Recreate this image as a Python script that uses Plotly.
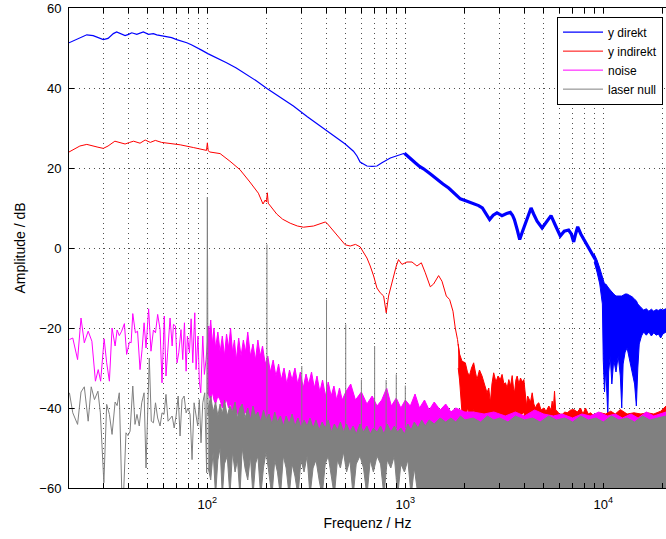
import plotly.graph_objects as go

# ---------------- data ----------------
# y direkt (blue) - smooth part
direkt_f = [20, 22.7, 24.6, 26.5, 28, 29.8, 31.5, 33.5, 34.8, 36.5, 38.4, 40, 41.5, 44, 47.5, 50.4,
            53.4, 55.5, 57.7, 62.3, 66, 70, 74, 78.7, 83, 88.4, 94, 100.5, 112, 125, 140, 158, 178,
            200, 235, 272, 320, 386, 440, 497, 547, 570, 591, 615, 640, 680, 719, 762, 800, 840, 900,
            962, 990]
direkt_db = [51.3, 52.4, 53.3, 53.1, 52.6, 52.1, 52.4, 53.6, 54.0, 53.6, 53.1, 53.4, 53.8, 53.4, 54.0,
             53.4, 53.6, 53.3, 53.1, 52.8, 52.6, 52.1, 51.8, 51.3, 50.8, 50.0, 49.4, 48.6, 47.5, 46.3,
             45.0, 43.4, 41.7, 39.9, 37.6, 35.5, 32.8, 29.9, 28.0, 26.0, 24.2, 23.0, 21.5, 20.9, 20.5,
             20.4, 20.5, 21.3, 22.0, 22.5, 23.0, 23.6, 23.7]
# y direkt - thicker, noisier part
direkt2_f = [990, 1019, 1070, 1122, 1180, 1236, 1340, 1445, 1550, 1656, 1780, 1897, 2051, 2200, 2346,
             2450, 2535, 2600, 2667, 2780, 2905, 3000, 3078, 3250, 3394, 3480, 3557, 3680, 3784, 3900,
             4045, 4200, 4318, 4450, 4632, 4910, 5150, 5448, 5750, 6067, 6350, 6683, 6900, 7090, 7250,
             7430, 7700, 8000, 8280, 8600, 8950, 9100]
direkt2_db = [23.7, 23.1, 22.2, 21.3, 20.4, 19.8, 18.5, 17.1, 16.0, 15.0, 13.6, 12.3, 11.7, 11.2, 10.6,
              10.0, 8.8, 7.8, 7.1, 8.2, 8.8, 8.4, 8.1, 8.6, 8.9, 8.2, 7.1, 4.5, 2.1, 4.0, 6.3, 8.8, 10.0,
              8.5, 6.7, 5.0, 6.5, 8.1, 5.5, 3.0, 4.2, 4.5, 3.5, 1.5, 3.5, 5.3, 3.5, 2.0, 0.8, -0.5, -2.1,
              -2.8]
# y direkt - high-frequency band (upper / lower envelope)
direkt_band_f = [9000, 9300, 9600, 9900, 10000, 10150, 10300, 10450, 10550, 10650, 10850, 11050, 11300,
                 11600, 11900, 12200, 12400, 12600, 12900, 13200, 13600, 14000, 14400, 14700, 14950,
                 15200, 15600, 16000, 16500, 17000, 17500, 18000, 18500, 19000, 19500, 20000, 20750]
direkt_band_hi = [-1.5, -3, -5, -7.5, -8.5, -9, -9, -9.5, -10, -10, -10.5, -11, -11.5, -12, -12, -12,
                  -12, -11.8, -11.5, -11.5, -11.8, -12.2, -12.8, -13.2, -14, -14.5, -15, -15.5, -15.2,
                  -15.8, -15.3, -15.8, -15.4, -15.6, -15.3, -15.5, -15.2]
direkt_band_lo = [-3.5, -6, -9, -14, -28, -36, -30, -35, -42, -31, -27, -34, -28, -31, -27, -32, -40,
                  -29, -26, -25, -28, -31, -34, -39.5, -30, -24, -22, -21, -21.8, -21, -22, -21.2,
                  -21.8, -21.5, -22.5, -21.5, -21]

# y indirekt (red) - line part
indirekt_f = [20, 21.5, 22.7, 24.6, 26.5, 28, 29.8, 31.5, 34.1, 36, 38.4, 40.5, 42.4, 45.7, 48.5, 51.5,
              54.6, 58.7, 65, 72.9, 85.3, 95, 99, 100, 101, 103, 116, 130, 146, 164, 181, 191, 196, 199,
              201, 203, 206, 224, 240, 262, 285, 306, 344, 380, 394, 402, 425, 451, 497, 527, 560, 591,
              615, 640, 665, 692, 719, 747, 777, 801, 823, 850, 872, 900, 924, 962, 1019, 1081, 1145,
              1205, 1262, 1337, 1390, 1473, 1532, 1611, 1675, 1741, 1788, 1836, 1880]
indirekt_db = [24.0, 24.9, 25.5, 25.9, 25.6, 25.2, 24.9, 25.5, 26.7, 26.4, 26.0, 26.4, 26.7, 26.2, 27.0,
               26.4, 26.9, 26.4, 26.1, 25.8, 25.1, 24.6, 24.4, 26.3, 24.3, 24.0, 23.6, 21.7, 19.6, 16.5,
               13.7, 11.0, 12.0, 11.5, 13.8, 11.2, 10.8, 8.5, 7.2, 6.2, 5.5, 5.2, 5.5, 6.2, 6.5, 6.2,
               4.8, 3.3, 0.8, 0.5, 0.9, 0.3, -1.2, -2.5, -4.5, -7.0, -10.0, -11.2, -12.0, -16.2, -12.0,
               -9.0, -7.0, -4.5, -2.9, -4.1, -3.5, -3.5, -4.5, -3.7, -6.2, -9.7, -9.0, -6.9, -8.3,
               -12.0, -12.9, -15.8, -20.0, -22.9, -27.0]
# y indirekt - noisy band
indirekt_band_f = [1850, 1880, 1934, 2010, 2060, 2106, 2160, 2215, 2260, 2302, 2370, 2441, 2510, 2587,
                   2640, 2689, 2740, 2796, 2870, 2941, 3020, 3082, 3150, 3208, 3270, 3334, 3400, 3467,
                   3520, 3562, 3620, 3674, 3750, 3819, 3900, 3971, 4030, 4097, 4150, 4209, 4290, 4375,
                   4460, 4548, 4640, 4727, 4850, 5010, 5150, 5310, 5450, 5521, 5600, 5673, 5750, 5852,
                   6000, 6202, 6400, 6574, 6850, 7104, 7400, 7677, 7900, 8137, 8400, 8625, 9000, 9687,
                   10300, 10900, 11500, 12200, 13200, 14300, 15500, 16700, 18000, 19500, 20750]
indirekt_band_hi = [-24, -26.5, -28.3, -28.7, -31, -32, -30, -28.7, -31, -32.9, -30.5, -32, -34, -36.2,
                    -35, -38.7, -34, -31.2, -33.5, -32, -32.9, -31.6, -34, -33.7, -35, -32.9, -34.5,
                    -31.9, -35, -36.2, -33, -32, -34, -32.5, -33.5, -32.9, -36, -39.5, -37, -37.5,
                    -38.5, -36.2, -39, -40, -39, -38.7, -40.5, -40, -40.8, -39.5, -40.5, -38.3, -40,
                    -35.8, -40.5, -40.8, -41.5, -41.6, -41, -41.2, -40.5, -40.4, -41, -40, -41.5, -40,
                    -41.5, -41.2, -42, -41.2, -41.5, -40.8, -41.5, -40.4, -41.5, -41.2, -41.5, -41.2,
                    -41.5, -40.8, -39.5]
indirekt_band_lo = [-30, -33, -41.2, -44, -40, -41.2, -43, -40.4, -42, -41, -43, -44.1, -42, -43.5, -44,
                    -44.5, -43, -42.5, -43, -42, -42, -41.5, -43, -43, -42, -42, -43, -41.2, -42, -43,
                    -42, -41.5, -42, -42, -41.5, -41, -43, -43.5, -43, -43, -43.5, -43, -44, -44, -44,
                    -44, -44.5, -44.5, -44.5, -44, -44.5, -44, -44.5, -44, -44.5, -44.5, -45, -45, -45,
                    -45, -45, -45, -45, -45, -45, -45, -45, -45, -45, -45, -45, -45, -45, -45, -45, -45,
                    -45, -45, -45, -45, -45]

# noise (magenta) - low-frequency line
noise_f = [20.1, 20.9, 22.1, 23.0, 23.9, 25.0, 26.1, 27.2, 28.1, 28.9, 30.1, 31.0, 32.0, 33.0, 34.2,
           35.0, 35.9, 36.9, 38.1, 39.1, 40.4, 41.2, 42.0, 43.3, 44.4, 45.7, 46.8, 47.9, 49.0, 50.5,
           51.9, 53.4, 54.7, 56.1, 57.7, 59.0, 60.6, 61.8, 63.0, 64.8, 66.4, 67.4, 69.0, 70.3, 71.7,
           73.6, 75.1, 76.6, 78.1, 79.3, 81.2, 82.8, 84.4, 86.4, 87.7, 89.7, 91.1, 92.6, 94.8, 96.6,
           98.5, 101.6, 103.2]
noise_db = [-22.9, -22.5, -27.9, -17.5, -23.7, -20.8, -23.3, -33.3, -30.4, -33.3, -22.7, -28.7, -33.3,
            -20.0, -24.5, -20.5, -21.9, -20.8, -18.9, -26.6, -23.5, -23.7, -16.4, -21.2, -20.8, -30.4,
            -25.4, -18.7, -25.0, -15.2, -25.8, -20.5, -21.2, -16.6, -20.4, -33.7, -17.0, -32.0, -26.2,
            -17.5, -24.5, -19.1, -19.5, -28.7, -26.2, -20.4, -27.9, -18.7, -30.8, -22.0, -26.2, -17.7,
            -28.7, -16.2, -30.4, -22.0, -33.3, -36.2, -22.0, -31.6, -27.9, -19.5, -23.7]
# noise - dense band (upper / lower envelope)
noise_band_f = [100, 102, 104, 106, 108, 110, 113, 116, 119, 122,
                125, 128, 131, 134, 137, 140, 144, 148, 152, 156,
                160, 165, 170, 175, 180, 185, 190, 196, 202, 208,
                215, 222, 229, 236, 244, 252, 260, 268, 277, 286,
                295, 305, 315, 325, 336, 347, 358, 370, 382, 395,
                408, 422, 436, 450, 465, 480, 500, 530, 560, 600,
                640, 680, 720, 760, 805, 850, 900, 950, 1000, 1060,
                1120, 1180, 1250, 1320, 1400, 1500, 1600, 1700, 1800, 2000,
                2200, 2500, 2800, 3200, 3600, 4000, 4500, 5000, 5600, 6200,
                7000, 7800, 8600, 9500, 10500, 11500, 12500, 13800, 15000, 16500,
                18000, 19500, 20750]
noise_band_hi = [-19.5, -23, -18, -24, -20, -25, -21, -26, -22, -27,
                 -21.5, -25, -20, -26, -23, -28, -22.5, -27, -23, -26,
                 -21, -27, -24, -28, -23, -27, -24.5, -29, -27, -31,
                 -28, -32, -29, -33, -30, -34, -30.5, -33, -30, -34,
                 -31, -35, -31.5, -34, -31, -35, -32, -36, -33, -37,
                 -33.5, -37, -34.5, -38, -35, -38, -36, -34, -38, -36,
                 -39, -37, -39.5, -38, -35, -39.5, -37.5, -40, -38, -39.5,
                 -36.5, -40, -38, -40.5, -38.5, -40.5, -39, -41, -40, -41,
                 -41, -41.5, -41, -42, -41, -42, -40.5, -41.5, -42, -41.5,
                 -42.5, -41.5, -42, -41, -42, -41.5, -42.5, -41.5, -42.5, -41,
                 -42, -41.5, -41]
noise_band_lo = [-36, -37, -38, -36, -38, -39, -37, -38, -40, -39,
                 -38, -40, -39, -41, -40, -41, -42, -41, -42, -41,
                 -42, -43, -42, -43, -44, -43, -44, -44, -45, -45,
                 -45, -46, -45, -46, -46, -45, -46, -46, -46, -47,
                 -46, -47, -47, -46, -47, -47, -47, -47, -47, -47,
                 -47, -47, -47, -47, -47, -47, -47, -47, -48, -48,
                 -48, -48, -48, -48, -48, -48, -48, -48, -48, -48,
                 -48, -48, -48, -48, -48, -48, -48, -48, -48, -48,
                 -48, -48, -48, -48, -48, -48, -48, -48, -48, -48,
                 -48, -48, -48, -48, -48, -48, -48, -48, -48, -48,
                 -48, -48, -48]

# laser null (gray) - low-frequency line incl. 100 Hz hum line
null_f = [20.1, 20.9, 22.1, 23.0, 23.9, 25.0, 25.9, 26.9, 28.0, 28.8, 30.0, 31.0, 32.0, 33.0, 34.2,
          35.0, 35.9, 37.0, 37.7, 38.8, 39.7, 40.7, 42.0, 43.1, 44.1, 45.3, 46.6, 47.9, 49.0, 50.1,
          50.9, 52.1, 53.4, 54.7, 56.1, 57.7, 59.0, 60.4, 61.8, 63.3, 64.8, 66.4, 68.0, 69.5, 71.2,
          72.8, 74.5, 76.3, 78.1, 80.0, 81.8, 83.7, 85.7, 87.7, 89.4, 91.1, 92.9, 94.8, 97.0, 99.2,
          100.0, 100.8, 102.0]
null_db = [-36.2, -41.2, -44.1, -36.0, -34.7, -43.3, -34.7, -37.9, -35.8, -41.2, -58.7, -39.1, -41.6,
           -46.6, -38.5, -39.4, -36.2, -62.0, -62.0, -46.2, -46.9, -45.8, -34.5, -44.1, -41.6, -44.5,
           -38.7, -36.2, -55.0, -34.5, -27.5, -43.3, -43.7, -38.7, -42.5, -44.5, -41.2, -41.6, -36.6,
           -43.3, -42.5, -42.0, -45.0, -42.0, -37.0, -47.0, -37.9, -37.0, -41.2, -40.0, -41.6, -52.9,
           -38.7, -42.0, -44.5, -37.9, -48.7, -38.7, -36.2, -56.2, 12.7, -42.0, -40.0]
# laser null - dense band (upper / lower envelope, lower edge clipped by the axis)
null_band_f = [101, 104, 107, 110, 113, 116, 119, 122, 126, 130,
               134, 138, 142, 146, 150, 155, 160, 165, 170, 175,
               180, 186, 192, 198, 205, 212, 219, 226, 234, 242,
               250, 259, 268, 277, 287, 297, 308, 319, 330, 342,
               354, 367, 380, 394, 408, 423, 438, 454, 470, 487,
               505, 525, 545, 565, 590, 615, 640, 665, 690, 720,
               750, 780, 810, 845, 880, 915, 950, 990, 1030, 1070,
               1110, 1160, 1210, 1260, 1320, 1400, 1500, 1600, 1700, 1800,
               1900, 2000, 2200, 2400, 2600, 2800, 3000, 3300, 3600, 4000,
               4400, 4800, 5300, 5800, 6400, 7000, 7700, 8400, 9200, 10000,
               11000, 12000, 13200, 14400, 15800, 17200, 18800, 20750]
null_band_hi = [-40, -37, -41, -38.5, -42, -39, -41.5, -38, -42, -39.5,
                -41, -38.5, -42.5, -40, -39, -42.5, -40, -43, -39.5, -42,
                -41, -43.5, -40.5, -43, -41.5, -44, -41, -43.5, -42, -44.5,
                -42, -44, -41.5, -44.5, -42.5, -45, -43, -44.5, -42.5, -45,
                -43, -45.5, -43.5, -45, -43, -46, -44, -45.5, -43.5, -46,
                -44, -46, -44.5, -46.5, -44, -46, -44.5, -46.5, -45, -46,
                -44.5, -46.5, -44, -46, -44.5, -46, -45, -46.5, -44, -45.5,
                -43.5, -45, -43, -44.5, -43, -44, -42.5, -43.5, -42.5, -43.5,
                -42, -43, -42.5, -43.5, -42, -43, -42.5, -43.5, -42, -43,
                -42.5, -43.5, -42, -43, -42.5, -43.5, -42, -43, -42.5, -43.5,
                -42, -43, -42.5, -43.5, -42, -43, -42.5, -42]
null_band_lo = [-55, -58, -51, -62, -53, -50, -62, -54, -52, -62,
                -51, -56, -53, -62, -50, -55, -58, -52, -62, -54,
                -52, -62, -55, -51, -57, -62, -53, -56, -62, -52,
                -55, -62, -54, -57, -62, -53, -56, -52, -62, -55,
                -53, -58, -62, -54, -52, -57, -62, -53, -55, -51,
                -56, -53, -62, -54, -52, -55, -62, -53, -56, -52,
                -54, -62, -53, -55, -52, -62, -54, -56, -53, -62,
                -55, -62, -62, -62, -62, -62, -62, -62, -62, -62,
                -62, -62, -62, -62, -62, -62, -62, -62, -62, -62,
                -62, -62, -62, -62, -62, -62, -62, -62, -62, -62,
                -62, -62, -62, -62, -62, -62, -62, -62]
# laser null - mains harmonics (frequency, peak level)
harm_f = [200, 300, 400, 500, 600, 700, 800, 900, 1000]
harm_db = [0.9, -29.5, -12.9, -19.1, -32.9, -24.5, -33.0, -31.6, -34.4]
harm_base = -45

x_ticks = [20, 30, 40, 50, 60, 70, 80, 90, 100, 200, 300, 400, 500, 600, 700, 800, 900,
           1000, 2000, 3000, 4000, 5000, 6000, 7000, 8000, 9000, 10000, 20000]
x_labels = {100: "10<sup>2</sup>", 1000: "10<sup>3</sup>", 10000: "10<sup>4</sup>"}
y_ticks = [-60, -40, -20, 0, 20, 40, 60]

for a, b in [(direkt_f, direkt_db), (direkt2_f, direkt2_db), (indirekt_f, indirekt_db),
             (noise_f, noise_db), (null_f, null_db), (harm_f, harm_db)]:
    assert len(a) == len(b), (len(a), len(b))
for a, b, c in [(direkt_band_f, direkt_band_hi, direkt_band_lo),
                (indirekt_band_f, indirekt_band_hi, indirekt_band_lo),
                (noise_band_f, noise_band_hi, noise_band_lo),
                (null_band_f, null_band_hi, null_band_lo)]:
    assert len(a) == len(b) == len(c), (len(a), len(b), len(c))

BLUE, RED, MAG, GRAY = "#0000FF", "#FF0000", "#FF00FF", "#808080"

fig = go.Figure()


def line(f, v, color, name=None, width=1.0, legend=False):
    fig.add_trace(go.Scatter(x=f, y=v, mode="lines", name=name, showlegend=legend,
                             line=dict(color=color, width=width), hoverinfo="skip"))


def band(f, hi, lo, color, width=1.0):
    fig.add_trace(go.Scatter(x=list(f) + list(f)[::-1], y=list(hi) + list(lo)[::-1],
                             mode="lines", fill="toself", fillcolor=color, showlegend=False,
                             line=dict(color=color, width=width), hoverinfo="skip"))


line(direkt_f, direkt_db, BLUE, "y direkt", 1.2, True)
line(direkt2_f, direkt2_db, BLUE, None, 3.2)
band(direkt_band_f, direkt_band_hi, direkt_band_lo, BLUE)

line(indirekt_f, indirekt_db, RED, "y indirekt", 1.0, True)
band(indirekt_band_f, indirekt_band_hi, indirekt_band_lo, RED)

line(noise_f, noise_db, MAG, "noise", 1.0, True)
band(noise_band_f, noise_band_hi, noise_band_lo, MAG)

line(null_f, null_db, GRAY, "laser null", 1.0, True)
band(null_band_f, null_band_hi, null_band_lo, GRAY)
hx, hy = [], []
for f, p in zip(harm_f, harm_db):
    hx += [f, f, None]
    hy += [harm_base, p, None]
line(hx, hy, GRAY, None, 1.0)

FONT = "Liberation Sans, Arial, Helvetica, sans-serif"
fig.update_layout(
    width=666, height=539,
    margin=dict(l=69, r=0, t=8, b=51),
    paper_bgcolor="white", plot_bgcolor="white",
    font=dict(family=FONT, size=12, color="black"),
    showlegend=True,
    legend=dict(x=0.995, xanchor="right", y=0.982, yanchor="top",
                bgcolor="white", bordercolor="black", borderwidth=1,
                font=dict(size=12), tracegroupgap=0, itemwidth=40),
    xaxis=dict(type="log", range=[1.30103, 4.31702],
               tickvals=x_ticks, ticktext=[x_labels.get(t, "") for t in x_ticks],
               ticks="inside", ticklen=5, tickcolor="black", tickfont=dict(size=13),
               ticklabelstandoff=4,
               showline=True, linecolor="black", linewidth=1, mirror="ticks",
               showgrid=True, gridcolor="#505050", gridwidth=1, griddash="1px,4px",
               zeroline=False, title=dict(text="Frequenz / Hz", standoff=7),
               automargin=False),
    yaxis=dict(range=[-60, 60], tickvals=y_ticks,
               ticks="inside", ticklen=5, tickcolor="black", tickfont=dict(size=13),
               showline=True, linecolor="black", linewidth=1,
               showgrid=True, gridcolor="#505050", gridwidth=1, griddash="1px,4px",
               zeroline=False, title=dict(text="Amplitude / dB", standoff=10),
               ticklabelstandoff=4, automargin=False),
)

fig.write_html("out.html")
